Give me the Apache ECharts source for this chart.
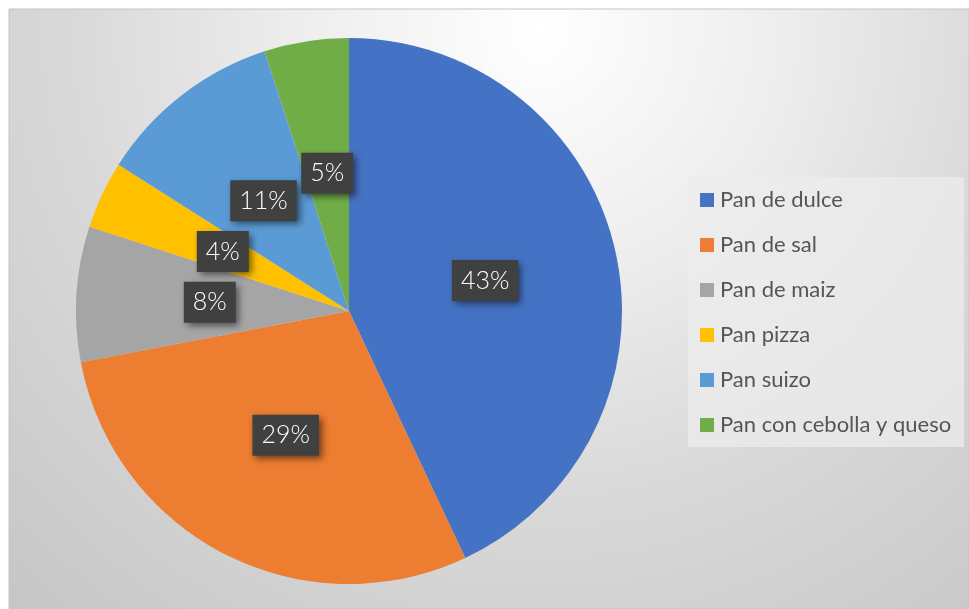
<!DOCTYPE html>
<html>
<head>
<meta charset="utf-8">
<title>Tipos de pan</title>
<script src="https://cdn.jsdelivr.net/npm/echarts@6/dist/echarts.min.js"></script>
<style>
  html, body { margin: 0; padding: 0; background: #ffffff; }
  #chart { width: 969px; height: 609px; }
</style>
</head>
<body>
<div id="chart"></div>
<script>
// Bread types and their share (%)
const categories = ['Pan de dulce', 'Pan de sal', 'Pan de maiz', 'Pan pizza', 'Pan suizo', 'Pan con cebolla y queso'];
const shares = [43, 29, 8, 4, 11, 5];
const sliceColors = ['#4472C4', '#ED7D31', '#A5A5A5', '#FFC000', '#5B9BD5', '#70AD47'];

const chart = echarts.init(document.getElementById('chart'), null, { renderer: 'canvas' });

const pieData = categories.map((name, i) => ({
  name: name,
  value: shares[i],
  itemStyle: { color: sliceColors[i] }
}));

chart.setOption({
  animation: false,
  graphic: [
    {
      type: 'rect',
      z: -10,
      silent: true,
      shape: { x: 9, y: 9, width: 960, height: 600 },
      style: {
        fill: {
          type: 'radial',
          x: 540, y: 30, r: 780,
          global: true,
          colorStops: [
            { offset: 0, color: '#ffffff' },
            { offset: 0.3, color: '#eeeeee' },
            { offset: 0.6, color: '#d9d9d9' },
            { offset: 1, color: '#c6c6c6' }
          ]
        },
        stroke: '#c4c4c4',
        lineWidth: 1
      }
    },
    {
      type: 'rect',
      z: -5,
      silent: true,
      shape: { x: 688, y: 177, width: 276, height: 270 },
      style: { fill: 'rgba(236,236,236,0.75)' }
    }
  ],
  legend: {
    orient: 'vertical',
    left: 700,
    top: 189,
    padding: 0,
    itemWidth: 14,
    itemHeight: 14,
    itemGap: 23,
    icon: 'rect',
    data: categories,
    textStyle: {
      fontFamily: 'Lato, "Open Sans", sans-serif',
      fontSize: 22,
      lineHeight: 22,
      color: '#555555',
      padding: [0, 0, 0, 1]
    }
  },
  series: [
    {
      type: 'pie',
      center: [349, 311],
      radius: 273,
      startAngle: 90,
      clockwise: true,
      avoidLabelOverlap: false,
      silent: true,
      data: pieData,
      itemStyle: { borderWidth: 0 },
      label: {
        show: true,
        position: 'inside',
        formatter: '{c}%',
        fontFamily: 'Lato, "Open Sans", sans-serif',
        fontWeight: 300,
        fontSize: 25,
        lineHeight: 25,
        color: '#ffffff',
        backgroundColor: '#404040',
        padding: [8, 9, 8, 9],
        shadowColor: 'rgba(0,0,0,0.55)',
        shadowBlur: 7,
        shadowOffsetX: 3,
        shadowOffsetY: 3
      },
      labelLine: { show: false }
    }
  ]
});
</script>
</body>
</html>
